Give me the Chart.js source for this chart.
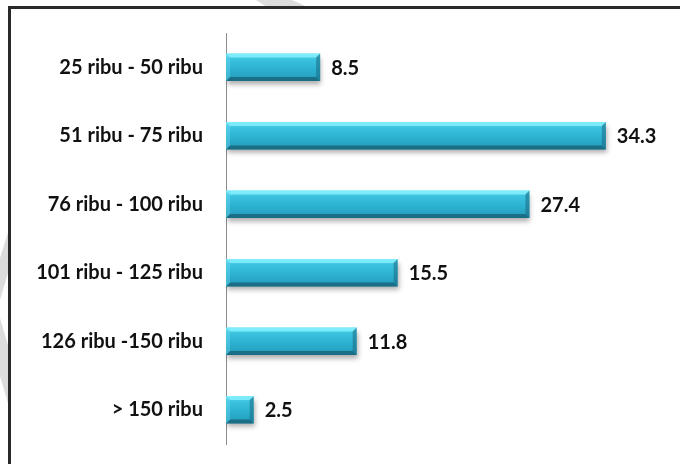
<!DOCTYPE html>
<html>
<head>
<meta charset="utf-8">
<script src="https://cdn.jsdelivr.net/npm/chart.js@4"></script>
<style>
  body { margin: 0; background: #fff; }
  canvas { display: block; }
</style>
</head>
<body>
<canvas id="chart" width="680" height="464"></canvas>
<script>
const categories = [
  '25 ribu - 50 ribu',
  '51 ribu - 75 ribu',
  '76 ribu - 100 ribu',
  '101 ribu - 125 ribu',
  '126 ribu -150 ribu',
  '> 150 ribu'
];
const values = [8.5, 34.3, 27.4, 15.5, 11.8, 2.5];

const FONT = 'Lato, "Open Sans", sans-serif';

// page frame + grey watermark bits outside the frame
const framePlugin = {
  id: 'frame',
  beforeDraw(chart) {
    const ctx = chart.ctx;
    ctx.save();
    ctx.fillStyle = '#fff';
    ctx.fillRect(0, 0, chart.width, chart.height);
    ctx.fillStyle = '#dcdcdc';
    ctx.beginPath();
    ctx.moveTo(256, 0); ctx.lineTo(292, 0); ctx.lineTo(312, 9); ctx.lineTo(270, 9);
    ctx.closePath(); ctx.fill();
    ctx.beginPath();
    ctx.moveTo(10, 226); ctx.lineTo(10, 266); ctx.lineTo(0, 300); ctx.lineTo(0, 258);
    ctx.closePath(); ctx.fill();
    ctx.beginPath();
    ctx.moveTo(0, 318); ctx.lineTo(10, 352); ctx.lineTo(10, 410); ctx.lineTo(0, 376);
    ctx.closePath(); ctx.fill();
    ctx.fillStyle = '#fff';
    ctx.fillRect(10, 8, 700, 500);
    ctx.strokeStyle = '#2a2a2a';
    ctx.lineWidth = 3;
    ctx.strokeRect(9.5, 7.5, 700, 500);
    ctx.restore();
  }
};

// bevel look + value labels, placed from the bar elements
const barDeco = {
  id: 'barDeco',
  beforeDatasetDraw(chart) {
    const ctx = chart.ctx;
    ctx.save();
    ctx.shadowColor = 'rgba(0,0,0,0.32)';
    ctx.shadowBlur = 5;
    ctx.shadowOffsetX = 1;
    ctx.shadowOffsetY = 4;
  },
  afterDatasetDraw(chart) {
    const ctx = chart.ctx;
    ctx.restore();
    const meta = chart.getDatasetMeta(0);
    meta.data.forEach((bar, i) => {
      const top = bar.y - bar.height / 2;
      const bot = bar.y + bar.height / 2;
      const l = bar.base, r = bar.x, b = 4;
      ctx.save();
      // top face
      ctx.fillStyle = 'rgba(130,238,252,0.85)';
      ctx.beginPath();
      ctx.moveTo(l, top); ctx.lineTo(r, top); ctx.lineTo(r - b, top + b); ctx.lineTo(l + b, top + b);
      ctx.closePath(); ctx.fill();
      // bottom face
      ctx.fillStyle = 'rgba(20,85,105,0.65)';
      ctx.beginPath();
      ctx.moveTo(l, bot); ctx.lineTo(r, bot); ctx.lineTo(r - b, bot - b); ctx.lineTo(l + b, bot - b);
      ctx.closePath(); ctx.fill();
      // right face
      ctx.fillStyle = 'rgba(25,105,130,0.55)';
      ctx.beginPath();
      ctx.moveTo(r, top); ctx.lineTo(r, bot); ctx.lineTo(r - b, bot - b); ctx.lineTo(r - b, top + b);
      ctx.closePath(); ctx.fill();
      // left face
      ctx.fillStyle = 'rgba(120,220,240,0.35)';
      ctx.beginPath();
      ctx.moveTo(l, top); ctx.lineTo(l, bot); ctx.lineTo(l + b, bot - b); ctx.lineTo(l + b, top + b);
      ctx.closePath(); ctx.fill();
      // value
      ctx.fillStyle = '#111';
      ctx.font = 'bold 20px ' + FONT;
      ctx.textAlign = 'left';
      ctx.textBaseline = 'middle';
      ctx.fillText(values[i].toFixed(1), r + 11, bar.y + 1);
      ctx.restore();
    });
  }
};

function barGradient(context) {
  const chart = context.chart;
  const yScale = chart.scales.y;
  const cy = yScale ? yScale.getPixelForValue(context.dataIndex) : NaN;
  if (!isFinite(cy)) return '#2db3d3';
  const h = 14;
  const g = chart.ctx.createLinearGradient(0, cy - h, 0, cy + h);
  g.addColorStop(0, '#6fe2f6');
  g.addColorStop(0.2, '#3cc3e0');
  g.addColorStop(0.55, '#2db2d2');
  g.addColorStop(1, '#2399b8');
  return g;
}

new Chart(document.getElementById('chart'), {
  type: 'bar',
  data: {
    labels: categories,
    datasets: [{
      data: values,
      backgroundColor: barGradient,
      borderWidth: 0,
      barPercentage: 0.4,
      categoryPercentage: 1
    }]
  },
  options: {
    indexAxis: 'y',
    responsive: false,
    animation: false,
    layout: { padding: { left: 0, top: 33, right: 11, bottom: 20 } },
    plugins: {
      legend: { display: false },
      tooltip: { enabled: false }
    },
    scales: {
      x: {
        display: false,
        min: 0,
        max: 40
      },
      y: {
        afterFit(scale) {
          scale.width = 226;
          scale.paddingTop = 0;
          scale.paddingBottom = 0;
        },
        grid: { color: 'rgba(0,0,0,0)', drawTicks: false },
        border: { display: true, color: '#8c8c8c', width: 1 },
        ticks: {
          padding: 23,
          color: '#111',
          font: { family: FONT, size: 20, weight: 'bold' }
        }
      }
    }
  },
  plugins: [framePlugin, barDeco]
});
</script>
</body>
</html>
